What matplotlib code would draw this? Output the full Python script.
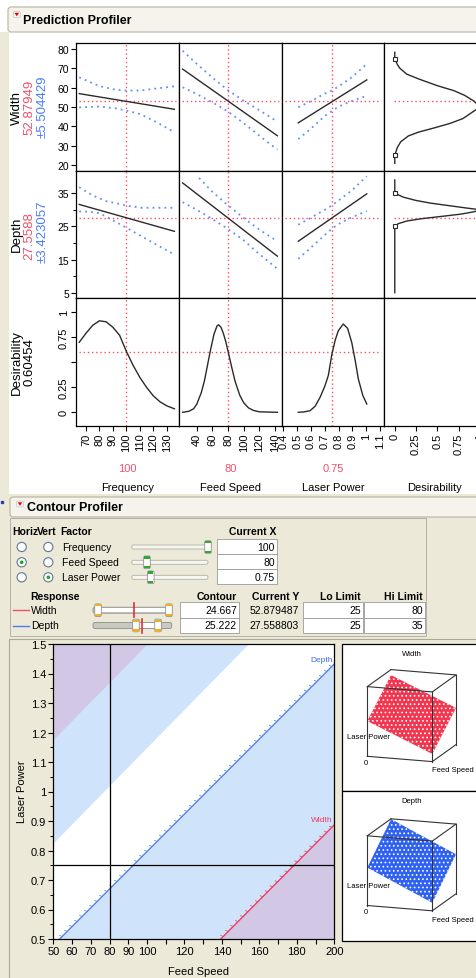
import matplotlib
matplotlib.use("Agg")
import matplotlib.pyplot as plt
import matplotlib.patheffects as pe
import numpy as np
from matplotlib.patches import Rectangle, FancyBboxPatch, Circle, Polygon

plt.rcParams["font.family"] = ["Liberation Sans", "DejaVu Sans"]
plt.rcParams["hatch.linewidth"] = 0.7

# ------------------------------------------------------------------ data
factors = ["Frequency", "Feed Speed", "Laser Power"]
x_current = [100, 80, 0.75]
x_current_txt = ["100", "80", "0.75"]
factor_range = [(60, 100), (50, 200), (0.5, 1.5)]   # slider ranges

width_now, width_ci = "52.87949", "±5.504429"
depth_now, depth_ci = "27.5588", "±3.423057"
desir_now = "0.60454"
width_val, depth_val, desir_val = 52.87949, 27.5588, 0.60454

# Width traces per factor: prediction line and dotted confidence curves
w_line_x = [[65, 135.7], [22, 143], [0.508, 1.004]]
w_line_y = [[56.9, 48.8], [69.6, 35.1], [41.8, 64.0]]
w_hi_x = [[65, 80, 92, 100, 110, 122, 135.7], [22, 40, 60, 80, 100, 120, 143],
          [0.508, 0.6, 0.7, 0.75, 0.8, 0.9, 1.004]]
w_hi_y = [[65.3, 60.8, 58.9, 58.5, 58.5, 59.5, 60.7], [79.1, 72.3, 65.2, 58.6, 53.2, 48.3, 42.4],
          [49.8, 53.0, 56.9, 58.5, 60.6, 65.6, 72.2]]
w_lo_x = w_hi_x
w_lo_y = [[49.8, 50.2, 49.3, 48.1, 46.4, 42.3, 36.9], [60.2, 56.7, 52.4, 47.6, 41.6, 35.1, 27.9],
          [33.4, 38.8, 45.3, 47.8, 50.2, 53.2, 55.8]]

# Depth traces per factor
d_line_x = w_line_x
d_line_y = [[31.6, 23.5], [38.1, 16.0], [20.5, 34.8]]
d_hi_x = [[65, 75, 85, 100, 110, 120, 135.7], [43, 60, 80, 100, 120, 143],
          [0.508, 0.6, 0.7, 0.75, 0.8, 0.9, 1.004]]
d_hi_y = [[36.8, 34.3, 32.6, 31.3, 30.6, 30.6, 30.6], [39.6, 35.4, 31.3, 27.5, 24.0, 20.5],
          [25.5, 27.6, 30.0, 31.3, 32.8, 36.0, 40.1]]
d_lo_x = [[65, 72, 80, 90, 100, 110, 120, 135.7], [22, 40, 60, 80, 100, 120, 143],
          [0.508, 0.6, 0.7, 0.75, 0.8, 0.9, 1.004]]
d_lo_y = [[29.5, 29.4, 29.0, 26.8, 24.6, 22.3, 20.0, 16.5], [32.3, 30.0, 27.2, 24.2, 20.8, 16.6, 12.2],
          [15.2, 18.6, 22.4, 24.2, 25.7, 27.8, 29.6]]

# Desirability traces per factor
des_x = [[65, 70, 75, 80, 85, 90, 95, 100, 105, 110, 115, 120, 125, 130, 135.7],
         [22, 30, 36, 40, 46, 50, 57, 62, 66, 68, 71, 74, 77, 80, 85, 89, 95, 100, 106, 112, 120, 143],
         [0.508, 0.55, 0.593, 0.63, 0.666, 0.7, 0.726, 0.75, 0.775, 0.798, 0.834, 0.865, 0.895,
          0.92, 0.943, 0.975, 1.004]]
des_y = [[0.70, 0.79, 0.87, 0.915, 0.905, 0.85, 0.77, 0.61, 0.47, 0.35, 0.25, 0.165, 0.105, 0.065, 0.035],
         [0.0, 0.01, 0.035, 0.08, 0.2, 0.32, 0.6, 0.78, 0.865, 0.875, 0.85, 0.79, 0.71, 0.61, 0.44,
          0.31, 0.17, 0.095, 0.045, 0.02, 0.005, 0.0],
         [0.0, 0.004, 0.016, 0.06, 0.15, 0.26, 0.37, 0.57, 0.72, 0.816, 0.883, 0.84, 0.70, 0.52,
          0.333, 0.17, 0.083]]

# desirability functions of the responses
wdes_resp = [20.8, 25, 29, 32, 35, 37, 39, 41.5, 44, 47, 50, 53, 56, 58.5, 61, 64.5, 67, 70, 72, 75, 78.3]
wdes_d = [0, 0, 0.03, 0.07, 0.16, 0.28, 0.45, 0.65, 0.8, 0.9, 1.0, 0.93, 0.82, 0.69, 0.5, 0.28,
          0.14, 0.06, 0.03, 0.0, 0.0]
wdes_pts = ([0, 1, 0], [25, 50, 75])
ddes_resp = [5, 25, 25.8, 26.6, 27.3, 28.0, 28.7, 29.4, 30.0, 30.6, 31.3, 32.0, 32.8, 33.8, 35, 39]
ddes_d = [0, 0, 0.04, 0.14, 0.31, 0.55, 0.78, 0.93, 1.0, 0.82, 0.62, 0.42, 0.25, 0.1, 0.0, 0.0]
ddes_pts = ([0, 1, 0], [25, 30, 35])

# contour profiler
responses = ["Width", "Depth"]
contour_val = ["24.667", "25.222"]
current_y = ["52.879487", "27.558803"]
lo_limit = [25, 25]
hi_limit = [80, 35]
resp_range = [(21.1, 82.1), (5.5, 41.2)]
horiz_sel, vert_sel = 1, 2

fs_lim = (50, 200)
lp_lim = (0.5, 1.5)
depth_lo_fs, depth_lo_lp = [53.4, 200], [0.5, 1.432]    # Depth = 25.222 contour
depth_hi_fs, depth_hi_lp = [50, 154], [0.826, 1.5]      # Depth = 35 limit
width_lo_fs, width_lo_lp = [139.4, 200], [0.5, 0.887]   # Width = 24.667 contour
width_hi_fs, width_hi_lp = [50, 100], [1.177, 1.5]      # Width = 80 limit

# surface corner values [LP low, LP high] x [FS low, FS high]
width_corners = [[50.2, 7.4], [95.2, 52.4]]
depth_corners = [[25.8, -1.6], [54.6, 27.3]]
width_zlim = (-4.5, 103.7)
depth_zlim = (-8.9, 54.9)

# ------------------------------------------------------------------ style
BEIGE = "#ECE9D8"
RED = "#F2506A"
BLUE = "#4A7DF2"
REF = "#FF4D64"
BAND = "#5F8FF8"
LBLUE = "#CFE3FB"
PURPLE = "#D3C7E6"
INK = "#2A2A2A"

W_PX, H_PX = 477, 979
fig = plt.figure(figsize=(W_PX / 100, H_PX / 100), dpi=100)


def px_axes(x0, y0, x1, y1, **kw):
    return fig.add_axes([x0 / W_PX, 1 - y1 / H_PX, (x1 - x0) / W_PX, (y1 - y0) / H_PX], **kw)


bg = px_axes(0, 0, W_PX, H_PX)
bg.set_xlim(0, W_PX)
bg.set_ylim(H_PX, 0)
bg.axis("off")

bg.add_patch(Rectangle((0, 33), 9, 470, fc=BEIGE, ec="none"))
bg.add_patch(Rectangle((0, 495), W_PX, 490, fc=BEIGE, ec="none"))
bg.plot([2], [503], marker="s", ms=1.5, color="#2244AA")


def header(x0, y0, y1, title, tx, icon):
    bg.add_patch(FancyBboxPatch((x0, y0), 495 - x0, y1 - y0, boxstyle="round,pad=0,rounding_size=3",
                                fc="#F5F3EB", ec="#B7B39F", lw=0.8))
    ix, iy = icon
    bg.add_patch(FancyBboxPatch((ix, iy), 7, 6, boxstyle="round,pad=0,rounding_size=1.5",
                                fc="#FBFAF6", ec="#C8C4B2", lw=0.5))
    bg.add_patch(Polygon([(ix + 1.2, iy + 1.3), (ix + 5.8, iy + 1.3), (ix + 3.5, iy + 4.8)], fc="#E00010", ec="none"))
    bg.text(tx, (y0 + y1) / 2 + 0.5, title, fontsize=9, weight="bold", va="center")


header(8, 8, 33, "Prediction Profiler", 23.3, (13.3, 12.5))
header(10, 498, 518, "Contour Profiler", 27.3, (16.5, 502))

# ------------------------------------------------------------------ prediction profiler
col_edges = [76, 178.7, 281.7, 384.3, 484]
row_edges = [44, 172.3, 299.3, 426.7]
col_lims = [(62.6, 138.9), (17, 148.5), (0.388, 1.131), (-0.123, 1.047)]
row_lims = [(16.7, 83.1), (3.3, 41.6), (-0.134, 1.14)]
row_now = [width_val, depth_val, desir_val]
xtick_sets = [(list(range(70, 131, 10)), [str(v) for v in range(70, 131, 10)]),
              (list(range(40, 141, 20)), [str(v) for v in range(40, 141, 20)]),
              ([0.4, 0.5, 0.6, 0.7, 0.8, 0.9, 1.0, 1.1], ["0.4", "0.5", "0.6", "0.7", "0.8", "0.9", "1", "1.1"]),
              ([0, 0.25, 0.5, 0.75, 1], ["0", "0.25", "0.5", "0.75", "1"])]
dotted = (0, (1, 2))
band_style = (0, (1, 2.3))
names_y = (row_edges[3] - 487.7) / (row_edges[3] - row_edges[2])

for r in range(3):
    for c in range(4):
        ax = px_axes(col_edges[c], row_edges[r], col_edges[c + 1], row_edges[r + 1])
        ax.set_xlim(*col_lims[c])
        ax.set_ylim(*row_lims[r])
        for sp in ax.spines.values():
            sp.set_linewidth(0.9)
            sp.set_color("black")
        ax.spines["right"].set_visible(c != 3)
        ax.tick_params(direction="out", length=3.5, width=0.8, colors="black", pad=1.5)
        ax.tick_params(which="minor", direction="out", length=2.5, width=0.7)
        if c == 0:
            if r == 0:
                ax.set_yticks(range(20, 81, 10))
                ax.set_yticklabels([str(v) for v in range(20, 81, 10)], fontsize=7.5)
            elif r == 1:
                ax.set_yticks([5, 15, 25, 35])
                ax.set_yticklabels(["5", "15", "25", "35"], fontsize=7.5)
                ax.set_yticks([10, 20, 30], minor=True)
            else:
                ax.set_yticks([0, 0.25, 0.5, 0.75, 1])
                ax.set_yticklabels(["0", "0.25", "", "0.75", "1"], fontsize=8, rotation=90, va="center")
        else:
            ax.set_yticks([])
        if r == 2:
            ax.set_xticks(xtick_sets[c][0])
            ax.set_xticklabels(xtick_sets[c][1], fontsize=8, rotation=90)
            ax.set_xlabel(["Frequency", "Feed Speed", "Laser Power", "Desirability"][c],
                          fontsize=8, va="center")
            ax.xaxis.set_label_coords(0.5, names_y)
        else:
            ax.set_xticks([])

        if c < 3:
            ax.axvline(x_current[c], color=REF, lw=1, ls=dotted)
            ax.axhline(row_now[r], xmin=0.03, xmax=0.97, color=REF, lw=1, ls=dotted)
            if r == 0:
                ax.plot(w_hi_x[c], w_hi_y[c], color=BAND, lw=1.3, ls=band_style)
                ax.plot(w_lo_x[c], w_lo_y[c], color=BAND, lw=1.3, ls=band_style)
                ax.plot(w_line_x[c], w_line_y[c], color=INK, lw=1)
            elif r == 1:
                ax.plot(d_hi_x[c], d_hi_y[c], color=BAND, lw=1.3, ls=band_style)
                ax.plot(d_lo_x[c], d_lo_y[c], color=BAND, lw=1.3, ls=band_style)
                ax.plot(d_line_x[c], d_line_y[c], color=INK, lw=1)
            else:
                ax.plot(des_x[c], des_y[c], color=INK, lw=1)
        elif r < 2:
            ax.axhline(row_now[r], xmin=0.1, xmax=1, color=REF, lw=1, ls=dotted)
            dx, dy, pts = (wdes_d, wdes_resp, wdes_pts) if r == 0 else (ddes_d, ddes_resp, ddes_pts)
            ax.plot(dx, dy, color=INK, lw=1)
            ax.plot(pts[0], pts[1], ls="none", marker="s", ms=3.5, mfc="white", mec=INK, mew=0.8,
                    clip_on=False)

for c in range(3):
    bg.text((col_edges[c] + col_edges[c + 1]) / 2, 469, x_current_txt[c], color=RED, fontsize=8,
            ha="center", va="center")

row_label_font = dict(rotation=90, ha="center", va="center", fontsize=9.5)
bg.text(17, 108, "Width", **row_label_font)
bg.text(29.5, 107, width_now, color=RED, **row_label_font)
bg.text(42.5, 107, width_ci, color=BLUE, **row_label_font)
bg.text(17, 234, "Depth", **row_label_font)
bg.text(29.5, 236.5, depth_now, color=RED, **row_label_font)
bg.text(42.5, 232, depth_ci, color=BLUE, **row_label_font)
bg.text(17, 363, "Desirability", **row_label_font)
bg.text(29.5, 362, desir_now, **row_label_font)

# ------------------------------------------------------------------ contour profiler controls
UI = 7.5
bg.add_patch(Rectangle((10, 519), 416, 118, fc=BEIGE, ec="#B5B2A3", lw=0.7))
bold = dict(fontsize=UI, weight="bold", va="center")
bg.text(12, 532, "Horiz", **bold)
bg.text(37.3, 532, "Vert", **bold)
bg.text(60.7, 532, "Factor", **bold)
bg.text(276, 532, "Current X", ha="right", **bold)


def thumb(x, y, cap):
    bg.add_patch(FancyBboxPatch((x - 3.3, y - 6.3), 6.6, 12.6, boxstyle="round,pad=0,rounding_size=1.5",
                                fc="white", ec="#8F8F8F", lw=0.6, zorder=4))
    bg.add_patch(Rectangle((x - 2.6, y - 6.0), 5.2, 2.2, fc=cap, ec="none", zorder=5))
    bg.add_patch(Rectangle((x - 2.6, y + 3.8), 5.2, 2.2, fc=cap, ec="none", zorder=5))


row_y = [548, 563.3, 578.3]
for i, name in enumerate(factors):
    y = row_y[i]
    for rx, sel in ((21.7, horiz_sel), (48.3, vert_sel)):
        bg.add_patch(Circle((rx, y), 4.6, fc="white", ec="#5C7995", lw=0.8))
        if sel == i:
            bg.add_patch(Circle((rx, y), 1.8, fc="#23A323", ec="none"))
    bg.text(61.7, y, name, fontsize=UI, va="center")
    t0, t1 = 131.7, 208
    bg.add_patch(FancyBboxPatch((t0, y - 2), t1 - t0, 4, boxstyle="round,pad=0,rounding_size=2",
                                fc="#F7F6F1", ec="#B3B1A6", lw=0.6))
    lo, hi = factor_range[i]
    thumb(t0 + (x_current[i] - lo) / (hi - lo) * (t1 - t0), y, "#34A634")
    bg.add_patch(Rectangle((217.3, y - 8.5), 60, 15.3, fc="white", ec="#9A9A9A", lw=0.6))
    bg.text(275, y, x_current_txt[i], fontsize=UI, ha="right", va="center")

bg.text(30.7, 596.7, "Response", **bold)
bg.text(236.7, 596.7, "Contour", ha="right", **bold)
bg.text(299, 596.7, "Current Y", ha="right", **bold)
bg.text(360.7, 596.7, "Lo Limit", ha="right", **bold)
bg.text(422.7, 596.7, "Hi Limit", ha="right", **bold)

resp_y = [611.2, 626.5]
resp_col = [RED, BLUE]
for i, name in enumerate(responses):
    y = resp_y[i]
    bg.plot([12.7, 29.3], [y, y], color=resp_col[i], lw=1)
    bg.text(30.7, y, name, fontsize=UI, va="center")
    t0, t1 = 93, 171.7
    lo, hi = resp_range[i]
    f_lo = (lo_limit[i] - lo) / (hi - lo)
    f_hi = (hi_limit[i] - lo) / (hi - lo)
    f_now = (float(current_y[i]) - lo) / (hi - lo)
    bg.add_patch(FancyBboxPatch((t0, y - 3), t1 - t0, 6, boxstyle="round,pad=0,rounding_size=2",
                                fc="#C9C8C2", ec="#8E8D88", lw=0.6))
    bg.add_patch(Rectangle((t0 + f_lo * (t1 - t0), y - 2.2), (f_hi - f_lo) * (t1 - t0), 4.4,
                           fc="white", ec="none"))
    bg.plot([t0 + f_now * (t1 - t0)] * 2, [y - 7, y + 7], color="#E0303A", lw=1.2, zorder=6)
    thumb(t0 + f_lo * (t1 - t0), y, "#F0B020")
    thumb(t0 + f_hi * (t1 - t0), y, "#F0B020")
    top = 603.3 + i * 15.4
    for bx0, bx1 in ((180, 239), (302.7, 363.3), (364.3, 425)):
        bg.add_patch(Rectangle((bx0, top), bx1 - bx0, 15.4, fc="white", ec="#9A9A9A", lw=0.6))
    bg.text(237, y, contour_val[i], fontsize=UI, ha="right", va="center")
    bg.text(299, y, current_y[i], fontsize=UI, ha="right", va="center")
    bg.text(361, y, str(lo_limit[i]), fontsize=UI, ha="right", va="center")
    bg.text(423, y, str(hi_limit[i]), fontsize=UI, ha="right", va="center")

# ------------------------------------------------------------------ contour plot
bg.add_patch(Rectangle((9, 640), 480, 350, fc="none", ec="#ABA897", lw=0.8))
cax = px_axes(53.3, 645, 334.3, 940)
cax.set_xlim(*fs_lim)
cax.set_ylim(*lp_lim)
cax.fill_between(depth_lo_fs, lp_lim[0], depth_lo_lp, color=LBLUE, lw=0)
cax.fill_between(depth_hi_fs, depth_hi_lp, lp_lim[1], color=LBLUE, lw=0)
cax.fill_between(width_lo_fs, lp_lim[0], width_lo_lp, color=PURPLE, lw=0)
cax.fill_between(width_hi_fs, width_hi_lp, lp_lim[1], color=PURPLE, lw=0)
hair = [pe.withTickedStroke(spacing=5, length=0.4, angle=110, linewidth=0.5)]
cax.plot(depth_lo_fs, depth_lo_lp, color="#4F82EC", lw=1.0, path_effects=hair)
cax.plot(width_lo_fs, width_lo_lp, color="#EE3D60", lw=1.0, path_effects=hair)
cax.axvline(x_current[1], color="black", lw=0.9)
cax.axhline(x_current[2], color="black", lw=0.9)
cax.text(depth_lo_fs[-1] - 1, depth_lo_lp[-1] + 0.005, "Depth", color="#3C6FE8", fontsize=6,
         ha="right", va="bottom")
cax.text(width_lo_fs[-1] - 1, width_lo_lp[-1] + 0.005, "Width", color="#EE3D60", fontsize=6,
         ha="right", va="bottom")
for sp in cax.spines.values():
    sp.set_linewidth(0.9)
xt = list(range(50, 201, 10))
cax.set_xticks(xt)
cax.set_xticklabels([str(v) if (v <= 100 or v % 20 == 0) else "" for v in xt], fontsize=8)
yt = [round(0.5 + 0.1 * k, 1) for k in range(11)]
cax.set_yticks(yt)
cax.set_yticklabels(["%g" % v for v in yt], fontsize=8)
cax.set_yticks([round(0.55 + 0.1 * k, 2) for k in range(10)], minor=True)
cax.tick_params(direction="out", length=3.5, width=0.8, pad=1.5)
cax.tick_params(which="minor", direction="out", length=2, width=0.7)
cax.set_xlabel("Feed Speed", fontsize=8, va="center")
cax.xaxis.set_label_coords(0.516, -(971.7 - 940) / 295)
cax.set_ylabel("Laser Power", fontsize=8, va="center")
cax.yaxis.set_label_coords(-(53.3 - 21.7) / 281, 0.503)

# ------------------------------------------------------------------ surface thumbnails
ex = np.array([65.0, 5.3])
ey = np.array([23.7, -17.0])
ez = np.array([0.0, -69.7])


def surface_panel(top, bottom, origin_y, title, corners, zlim, color):
    bg.add_patch(Rectangle((341.7, top), 145, bottom - top, fc="white", ec="black", lw=0.9))
    origin = np.array([367.3, origin_y])

    def proj(u, v, w):
        return origin + u * ex + v * ey + w * ez

    zlo, zhi = zlim
    frac = [[(corners[j][i] - zlo) / (zhi - zlo) for i in range(2)] for j in range(2)]
    plane = [proj(0, 0, frac[0][0]), proj(1, 0, frac[0][1]), proj(1, 1, frac[1][1]), proj(0, 1, frac[1][0])]
    bg.add_patch(Polygon(plane, fc=color, ec="white", lw=0, hatch="....", zorder=3))
    edges = [((0, 0, 0), (1, 0, 0)), ((1, 0, 0), (1, 0, 1)), ((1, 0, 1), (0, 0, 1)), ((0, 0, 1), (0, 0, 0)),
             ((0, 0, 1), (0, 1, 1)), ((0, 1, 1), (1, 1, 1)), ((1, 1, 1), (1, 0, 1)),
             ((1, 1, 1), (1, 1, 0)), ((1, 1, 0), (1, 0, 0))]
    for a, b in edges:
        pa, pb = proj(*a), proj(*b)
        bg.plot([pa[0], pb[0]], [pa[1], pb[1]], color="#333333", lw=0.8, zorder=4)
    bg.text(411.7, top + 9.5, title, fontsize=5.5, ha="center", va="center")
    bg.text(347.3, origin_y - 20, "Laser Power", fontsize=5.5, va="center", zorder=5)
    bg.text(363.3, origin_y + 6, "0", fontsize=5.5, va="center")
    bg.text(431.7, origin_y + 13.7, "Feed Speed", fontsize=5.5, va="center")


surface_panel(645, 791.7, 757.3, "Width", width_corners, width_zlim, "#F23650")
surface_panel(791.7, 941.7, 906.5, "Depth", depth_corners, depth_zlim, "#2F62F2")

fig.savefig("out.png", dpi=100)
